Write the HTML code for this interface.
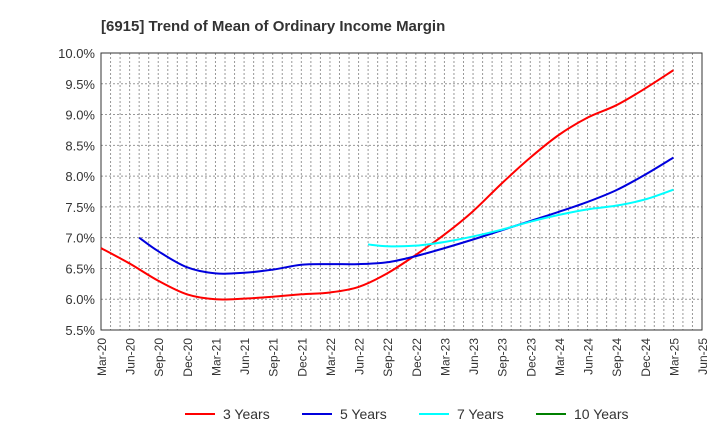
<!DOCTYPE html>
<html><head><meta charset="utf-8"><style>
body{margin:0;background:#fff;font-family:"Liberation Sans",Arial,sans-serif}
</style></head><body>
<svg id="chart" width="720" height="440" xmlns="http://www.w3.org/2000/svg">
<text x="101" y="31" font-size="15" font-weight="bold" fill="#333">[6915]  Trend of Mean of Ordinary Income Margin</text>
<g id="grid"></g><g id="axes"></g><g id="series"></g><g id="legend"></g>
</svg>
<script>
const xLabels=["Mar-20","Jun-20","Sep-20","Dec-20","Mar-21","Jun-21","Sep-21","Dec-21","Mar-22","Jun-22","Sep-22","Dec-22","Mar-23","Jun-23","Sep-23","Dec-23","Mar-24","Jun-24","Sep-24","Dec-24","Mar-25","Jun-25"];
const yTicks=[5.5,6.0,6.5,7.0,7.5,8.0,8.5,9.0,9.5,10.0];
const months3=[0,3,6,9,12,15,18,21,24,27,30,33,36,39,42,45,48,51,54,57,60];
const vals3=[6.83,6.58,6.3,6.08,6.0,6.01,6.04,6.08,6.11,6.2,6.42,6.72,7.05,7.43,7.88,8.3,8.67,8.95,9.15,9.42,9.72];
const months5=[4,6,9,12,15,18,21,24,27,30,33,36,39,42,45,48,51,54,57,60];
const vals5=[7.0,6.78,6.52,6.42,6.43,6.48,6.56,6.57,6.57,6.6,6.7,6.83,6.97,7.12,7.27,7.42,7.58,7.77,8.02,8.3];
const months7=[28,30,33,36,39,42,45,48,51,54,57,60];
const vals7=[6.89,6.86,6.87,6.93,7.02,7.13,7.26,7.37,7.46,7.52,7.62,7.78];
const months10=[];
const vals10=[];
const L=101,R=702,T=53,B=330,NM=63,YMIN=5.5,YMAX=10;
const X=m=>L+(R-L)*m/NM;
const Y=v=>B-(B-T)*(v-YMIN)/(YMAX-YMIN);
const NS="http://www.w3.org/2000/svg";
function mk(t,a,p){const e=document.createElementNS(NS,t);for(const k in a)e.setAttribute(k,a[k]);p.appendChild(e);return e;}
const grid=document.getElementById('grid'),axes=document.getElementById('axes'),ser=document.getElementById('series'),leg=document.getElementById('legend');
for(let m=1;m<NM;m++){const l=mk('line',{x1:X(m),x2:X(m),y1:T,y2:B,stroke:'#999','stroke-dasharray':'2,2','stroke-width':1},grid);

}
yTicks.forEach(v=>{if(v>YMIN&&v<YMAX){const l=mk('line',{x1:L,x2:R,y1:Y(v),y2:Y(v),stroke:'#999','stroke-dasharray':'2,2','stroke-width':1},grid);

}
const t=mk('text',{x:L-6,y:Y(v)+5,'text-anchor':'end','font-size':13,fill:'#333'},axes);t.textContent=v.toFixed(1)+'%';

});
const frame=mk('rect',{x:L,y:T,width:R-L,height:B-T,fill:'none',stroke:'#333','stroke-width':1},axes);


xLabels.forEach((s,i)=>{const x=X(i*3)+5;const t=mk('text',{x:x,y:B+8,'text-anchor':'end','font-size':12,fill:'#333',transform:`rotate(-90 ${x} ${B+8})`},axes);t.textContent=s;

});
function path(ms,vs){const p=ms.map((m,i)=>[X(m),Y(vs[i])]);if(!p.length)return '';let d=`M${p[0][0]},${p[0][1]}`;
for(let i=0;i<p.length-1;i++){const p0=p[i-1]||p[i],p1=p[i],p2=p[i+1],p3=p[i+2]||p2;
d+=` C${p1[0]+(p2[0]-p0[0])/6},${p1[1]+(p2[1]-p0[1])/6} ${p2[0]-(p3[0]-p1[0])/6},${p2[1]-(p3[1]-p1[1])/6} ${p2[0]},${p2[1]}`;}return d;}
const S=[[months3,vals3,'#ff0000','3 Years','series-3-years'],[months5,vals5,'#0000dd','5 Years','series-5-years'],[months7,vals7,'#00ffff','7 Years','series-7-years'],[months10,vals10,'#008000','10 Years','series-10-years']];
S.forEach((s,i)=>{if(s[0].length){const e=mk('path',{d:path(s[0],s[1]),fill:'none',stroke:s[2],'stroke-width':2},ser);

}
const lx=185+i*117;const g=mk('g',{},leg);


mk('line',{x1:lx,x2:lx+30,y1:414,y2:414,stroke:s[2],'stroke-width':2},g);
const t=mk('text',{x:lx+38,y:419,'font-size':14,fill:'#333'},g);t.textContent=s[3];});
</script>
</body></html>
